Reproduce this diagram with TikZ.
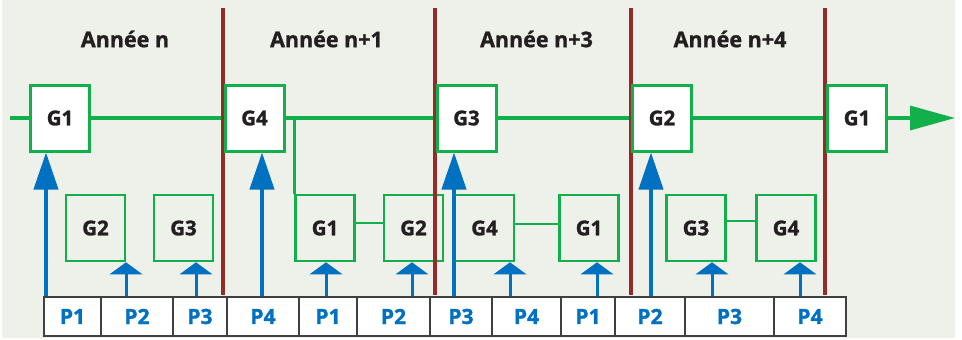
\documentclass[tikz,border=0pt]{standalone}
\usepackage{fontspec}
\setmainfont[BoldFeatures={FakeBold=1.2}]{Open Sans}
\usetikzlibrary{arrows.meta}
\definecolor{bgc}{RGB}{238,240,234}
\definecolor{grn}{RGB}{18,176,75}
\definecolor{redl}{RGB}{150,42,38}
\definecolor{blu}{RGB}{0,112,192}
\definecolor{txt}{RGB}{35,31,32}
\definecolor{cellb}{RGB}{64,64,64}
\tikzset{
  topbox/.style={draw=grn, line width=3pt, fill=white, minimum width=59pt, minimum height=66pt, inner sep=0pt, text=txt, font=\fontsize{20.5}{24}\selectfont\bfseries},
  lowbox/.style={draw=grn, line width=2.5pt, minimum width=59pt, minimum height=66pt, inner sep=0pt, text=txt, font=\fontsize{20.5}{24}\selectfont\bfseries},
  cell/.style={draw=cellb, line width=1.3pt, fill=white, minimum height=39pt, inner sep=0pt, text=blu, font=\fontsize{21}{24}\selectfont\bfseries},
  yearlbl/.style={text=txt, font=\fontsize{21.5}{25}\selectfont\bfseries, inner sep=0pt},
  mainline/.style={draw=grn, line width=3.5pt},
  thinline/.style={draw=grn, line width=2.5pt},
  sep/.style={draw=redl, line width=3.5pt},
  longarr/.style={draw=blu, line width=4pt, -{Triangle[length=37pt,width=24pt]}},
  shortarr/.style={draw=blu, line width=3pt, -{Triangle[length=12pt,width=32pt]}},
}
\begin{document}
\begin{tikzpicture}[x=1pt,y=-1pt]
\useasboundingbox (0,0) rectangle (962,340);
\fill[bgc] (2,0) rectangle (955,338);

% year labels
\node[yearlbl] (y1) at (125,39) {Année n};
\node[yearlbl] (y2) at (326.5,39) {Année n+1};
\node[yearlbl] (y3) at (536.5,39) {Année n+3};
\node[yearlbl] (y4) at (730,39) {Année n+4};

% main line
\coordinate (ms) at (10,118);
\coordinate (me) at (955,118);
\draw[mainline, -{Triangle[length=45pt,width=24pt]}] (ms) -- (me);

% lower boxes
\node[lowbox] (b1) at (95.5,228) {G2};
\node[lowbox] (b2) at (183.5,228) {G3};
\node[lowbox] (b3) at (325,228) {G1};
\node[lowbox] (b4) at (413.5,228) {G2};
\node[lowbox] (b5) at (484.5,228) {G4};
\node[lowbox] (b6) at (589,228) {G1};
\node[lowbox] (b7) at (696,228) {G3};
\node[lowbox] (b8) at (786,228) {G4};
\draw[thinline] ([yshift=5pt]b3.east) -- ([yshift=5pt]b4.west);
\draw[thinline] ([yshift=4pt]b5.east) -- ([yshift=4pt]b6.west);
\draw[thinline] ([yshift=7pt]b7.east) -- ([yshift=7pt]b8.west);

% separators
\foreach \x [count=\i] in {223,435,631,825}{
  \coordinate (st\i) at (\x,8);
  \coordinate (sb\i) at (\x,295);
  \draw[sep] (st\i) -- (sb\i);
}

% top boxes
\node[topbox] (t1) at (60,118) {G1};
\node[topbox] (t2) at (254.5,118) {G4};
\node[topbox] (t3) at (466.5,118) {G3};
\node[topbox] (t4) at (662,118) {G2};
\node[topbox] (t5) at (857,118) {G1};
\draw[thinline] (b3.north west) -- (b3.north west |- t2.east);

% cells
\foreach \a/\b/\t [count=\i] in {44/101/P1,101/173/P2,173/227/P3,227/299/P4,299/357/P1,357/430/P2,430/492/P3,492/561/P4,561/615/P1,615/685/P2,685/774/P3,774/846/P4}{
  \node[cell, minimum width={(\b-\a)*1pt}] (p\i) at ({(\a+\b)/2},316.5) {\t};
}

% long arrows
\foreach \x/\c/\t in {46/p1/t1,262/p4/t2,454/p7/t3,651/p10/t4}{
  \coordinate (lx) at (\x,0);
  \draw[longarr] (lx |- \c.north) -- (lx |- \t.south);
}
% short arrows
\foreach \x/\c/\t in {126/p2/b1,196/p3/b2,326/p5/b3,412/p6/b4,510/p8/b5,597/p9/b6,712/p11/b7,800/p12/b8}{
  \coordinate (sx) at (\x,0);
  \draw[shortarr] (sx |- \c.north) -- (sx |- \t.south);
}
\end{tikzpicture}
\end{document}
